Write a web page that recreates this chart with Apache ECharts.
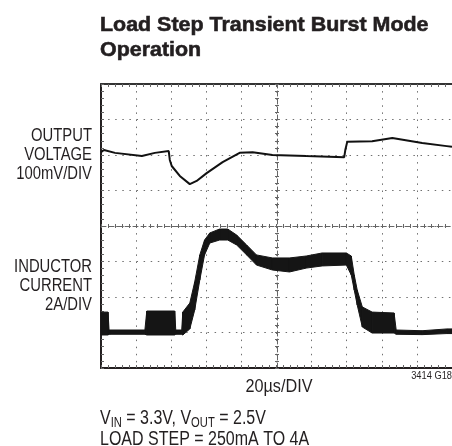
<!DOCTYPE html>
<html>
<head>
<meta charset="utf-8">
<script src="https://cdn.jsdelivr.net/npm/echarts@6/dist/echarts.min.js"></script>
<style>
  html, body { margin: 0; padding: 0; background: #fff; }
  #chart { width: 452px; height: 446px; }
</style>
</head>
<body>
<div id="chart"></div>
<script>
// time in µs (20µs/DIV, 10 divisions)
const timeTicks = [0, 20, 40, 60, 80, 100, 120, 140, 160, 180, 200];

// output voltage deviation, mV (100mV/DIV)
const voltTime = [0, 1.7, 8, 23.3, 30.7, 38.6, 39.2, 40.3, 44.9, 50.6, 54.5, 60.2, 69.3, 79, 86.4, 97.7, 117, 138.6, 139.2, 140.3, 154.5, 166, 183, 197, 200];
const voltMv   = [8, 14, 6, -3, 6, 11, -14, -31, -59, -82, -73, -51, -20, 6, 8, 0, -3, -6, 14, 37, 39, 48, 34, 25, 23];

// inductor current noise envelope, A (2A/DIV)
const currTime = [0, 4, 4.6, 5.1, 25, 26.1, 42, 42.6, 46, 46.6, 50.6, 53.4, 56.3, 59, 62, 67.6, 72.2, 77.3, 83, 88.6, 97.7, 107.4, 117, 126, 139.8, 142.6, 144.3, 146, 148.9, 154.5, 167, 168.2, 183, 197, 200];
const currLow  = [-0.14, -0.14, -0.1, -0.1, -0.1, -0.14, -0.14, -0.1, -0.1, -0.14, 0.20, 1.27, 2.96, 4.37, 5.04, 5.21, 5.21, 4.93, 4.37, 3.80, 3.52, 3.41, 3.63, 3.75, 3.80, 3.24, 2.39, 1.55, 0.31, -0.03, -0.03, -0.1, -0.12, -0.06, -0.06];
const currHigh = [1.15, 1.15, 0.14, 0.14, 0.14, 1.21, 1.21, 0.14, 0.14, 1.15, 1.66, 2.85, 4.37, 5.21, 5.61, 5.83, 5.83, 5.49, 4.93, 4.37, 4.20, 4.20, 4.31, 4.48, 4.48, 4.31, 3.24, 2.39, 1.44, 1.15, 1.10, 0.14, 0.10, 0.2, 0.2];

const font = '"Liberation Sans", Arial, sans-serif';
const ink = '#231f20';
const dotted = { color: '#707070', width: 1, type: [1.5, 5.6] };

function plainAxis(pos, min, max, interval, extra) {
  return Object.assign({
    type: 'value', min: min, max: max, interval: interval, position: pos,
    axisLine: { onZero: false, lineStyle: { color: ink, width: 2 } },
    axisTick: { inside: true, length: 3, lineStyle: { color: '#666' } },
    minorTick: { show: true, splitNumber: 5, length: 3, lineStyle: { color: '#666' } },
    axisLabel: { show: false },
    splitLine: { show: false }
  }, extra || {});
}

const chart = echarts.init(document.getElementById('chart'));

const option = {
  animation: false,
  grid: { left: 101, top: 84, width: 352, height: 284, containLabel: false },
  xAxis: [
    plainAxis('bottom', 0, 200, 20, { splitLine: { show: true, lineStyle: dotted } }),
    plainAxis('top', 0, 200, 20, { axisLine: { onZero: false, lineStyle: { color: '#333', width: 2 } } }),
    // centre horizontal graticule line, ticks on both sides
    plainAxis('bottom', 0, 200, 20, {
      offset: -142,
      axisLine: { onZero: false, lineStyle: { color: '#666', width: 1, type: [5, 3] } },
      axisTick: { inside: true, length: 2, lineStyle: { color: '#666' } },
      minorTick: { show: true, splitNumber: 5, length: 2, lineStyle: { color: '#666' } }
    }),
    plainAxis('bottom', 0, 200, 20, {
      offset: -142,
      axisLine: { show: false, onZero: false },
      axisTick: { inside: false, length: 2, lineStyle: { color: '#666' } },
      minorTick: { show: true, splitNumber: 5, length: 2, lineStyle: { color: '#666' } }
    })
  ],
  yAxis: [
    plainAxis('left', -600, 200, 100, { splitLine: { show: true, lineStyle: dotted } }),
    {
      type: 'value', min: -2, max: 14, interval: 2, position: 'left',
      axisLine: { show: false, onZero: false }, axisTick: { show: false },
      axisLabel: { show: false }, splitLine: { show: false }
    },
    // centre vertical graticule line
    plainAxis('left', -600, 200, 100, {
      offset: -176,
      axisLine: { onZero: false, lineStyle: { color: '#666', width: 1, type: [5, 3] } },
      axisTick: { inside: true, length: 2, lineStyle: { color: '#666' } },
      minorTick: { show: true, splitNumber: 5, length: 2, lineStyle: { color: '#666' } }
    }),
    plainAxis('left', -600, 200, 100, {
      offset: -176,
      axisLine: { show: false, onZero: false },
      axisTick: { inside: false, length: 2, lineStyle: { color: '#666' } },
      minorTick: { show: true, splitNumber: 5, length: 2, lineStyle: { color: '#666' } }
    })
  ],
  series: [
    {
      name: 'Output Voltage',
      type: 'line',
      xAxisIndex: 0, yAxisIndex: 0,
      data: voltTime.map((t, i) => [t, voltMv[i]]),
      showSymbol: false,
      lineStyle: { color: '#111', width: 2 },
      z: 5
    },
    {
      name: 'Inductor Current',
      type: 'custom',
      xAxisIndex: 0, yAxisIndex: 1,
      data: currTime.map((t, i) => [t, currLow[i], currHigh[i]]),
      renderItem: function (params, api) {
        const i = params.dataIndex;
        if (i >= currTime.length - 1) return null;
        const pts = [
          api.coord([currTime[i], currHigh[i]]),
          api.coord([currTime[i + 1], currHigh[i + 1]]),
          api.coord([currTime[i + 1], currLow[i + 1]]),
          api.coord([currTime[i], currLow[i]])
        ];
        return {
          type: 'polygon',
          shape: { points: pts },
          style: { fill: '#151515', stroke: '#151515', lineWidth: 1 }
        };
      },
      z: 5
    }
  ],
  graphic: [
    {
      type: 'text', x: 100, y: 13, scaleX: 1.02,
      style: { text: 'Load Step Transient Burst Mode\nOperation', align: 'left', verticalAlign: 'top', font: 'bold 21px ' + font, lineHeight: 25, fill: ink, stroke: ink, lineWidth: 0.6 }
    },
    {
      type: 'text', x: 92, y: 126, scaleX: 0.78,
      style: { text: 'OUTPUT\nVOLTAGE\n100mV/DIV', align: 'right', verticalAlign: 'top', font: '19px ' + font, lineHeight: 19, fill: ink }
    },
    {
      type: 'text', x: 92, y: 257, scaleX: 0.78,
      style: { text: 'INDUCTOR\nCURRENT\n2A/DIV', align: 'right', verticalAlign: 'top', font: '19px ' + font, lineHeight: 19, fill: ink }
    },
    {
      type: 'text', x: 279, y: 387, scaleX: 0.9,
      style: { text: '20µs/DIV', align: 'center', verticalAlign: 'middle', font: '18px ' + font, fill: ink }
    },
    {
      type: 'text', x: 452, y: 376, scaleX: 0.93,
      style: { text: '3414 G18', align: 'right', verticalAlign: 'middle', font: '10px ' + font, fill: ink }
    },
    {
      type: 'text', x: 100, y: 408, scaleX: 0.8,
      style: {
        text: '{m|V}{s|IN}{m| = 3.3V, V}{s|OUT}{m| = 2.5V}',
        align: 'left', verticalAlign: 'top', font: '20px ' + font, fill: ink,
        rich: {
          m: { fontFamily: font, fontSize: 20, lineHeight: 22, verticalAlign: 'top', fill: ink },
          s: { fontFamily: font, fontSize: 14, lineHeight: 22, verticalAlign: 'bottom', fill: ink }
        }
      }
    },
    {
      type: 'text', x: 100, y: 429, scaleX: 0.8,
      style: { text: 'LOAD STEP = 250mA TO 4A', align: 'left', verticalAlign: 'top', font: '20px ' + font, fill: ink }
    }
  ]
};

chart.setOption(option);
</script>
</body>
</html>
